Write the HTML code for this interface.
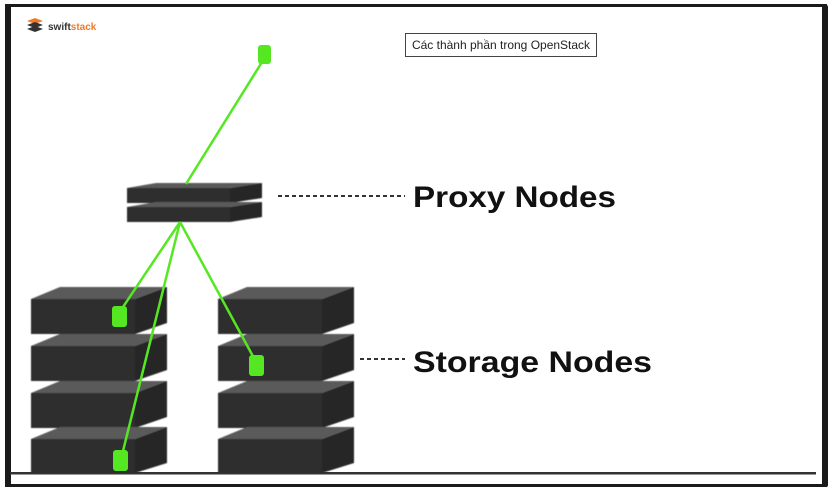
<!DOCTYPE html>
<html><head><meta charset="utf-8"><style>
html,body{margin:0;padding:0;background:#fff;}
body{width:837px;height:492px;position:relative;overflow:hidden;font-family:"Liberation Sans",Arial,sans-serif;}
</style></head><body>
<svg width="837" height="492" style="position:absolute;left:0;top:0">
<defs><filter id="b"><feGaussianBlur stdDeviation="0.6"/></filter></defs>
<rect x="0" y="0" width="837" height="492" fill="#fff"/>
<rect x="5" y="5" width="6" height="482" fill="#1a1a1a"/>
<rect x="5" y="4" width="822" height="3" fill="#1a1a1a"/>
<rect x="822" y="5" width="6" height="482" rx="2" fill="#1a1a1a"/>
<rect x="5" y="484" width="822" height="3" fill="#1a1a1a"/>
<rect x="10" y="472" width="806" height="2.5" fill="#333"/>
<g>
<path d="M27 21 L35 18 L43 21 L35 24Z" fill="#f07a2a"/>
<path d="M27 25 L35 22 L43 25 L35 28Z" fill="#333"/>
<path d="M27 29 L35 26 L43 29 L35 32Z" fill="#333"/>
<text x="48" y="30" font-size="10" font-weight="bold" fill="#333">swift<tspan fill="#f07a2a">stack</tspan></text>
</g>
<rect x="405.5" y="33.5" width="191" height="23" fill="#fff" stroke="#444"/>
<text x="501" y="49" font-size="12" text-anchor="middle" fill="#222">Các thành phần trong OpenStack</text>
<g filter="url(#b)">
<polygon points="127,188 156,183 262,183 230,188" fill="#5a5a5a"/>
<rect x="127" y="188" width="103" height="15" fill="#2f2f2f"/>
<polygon points="230,188 262,183 262,198 230,203" fill="#262626"/>
<polygon points="127,207 156,202 262,202 230,207" fill="#5a5a5a"/>
<rect x="127" y="207" width="103" height="15" fill="#2f2f2f"/>
<polygon points="230,207 262,202 262,217 230,222" fill="#262626"/>
</g>
<line x1="278" y1="196" x2="405" y2="196" stroke="#333" stroke-width="2" stroke-dasharray="4,3"/>
<line x1="360" y1="359" x2="405" y2="359" stroke="#333" stroke-width="2" stroke-dasharray="4,3"/>
<text x="413" y="207" font-size="30" font-weight="bold" fill="#111" textLength="203" lengthAdjust="spacingAndGlyphs">Proxy Nodes</text>
<text x="413" y="372" font-size="30" font-weight="bold" fill="#111" textLength="239" lengthAdjust="spacingAndGlyphs">Storage Nodes</text>
</svg>
<svg width="837" height="492" style="position:absolute;left:0;top:0">
<defs><filter id="b2"><feGaussianBlur stdDeviation="0.6"/></filter></defs>
<g filter="url(#b2)">
<g fill="#2f2f2f">
<polygon points="31,299 60,287 167,287 135,299" fill="#5a5a5a"/><rect x="31" y="299" width="104" height="35"/><polygon points="135,299 167,287 167,323 135,334" fill="#262626"/>
<polygon points="31,346 60,334 167,334 135,346" fill="#5a5a5a"/><rect x="31" y="346" width="104" height="35"/><polygon points="135,346 167,334 167,370 135,381" fill="#262626"/>
<polygon points="31,393 60,381 167,381 135,393" fill="#5a5a5a"/><rect x="31" y="393" width="104" height="35"/><polygon points="135,393 167,381 167,417 135,428" fill="#262626"/>
<polygon points="31,439 60,427 167,427 135,439" fill="#5a5a5a"/><rect x="31" y="439" width="104" height="34"/><polygon points="135,439 167,427 167,463 135,473" fill="#262626"/>
</g>
<g fill="#2f2f2f">
<polygon points="218,299 247,287 354,287 322,299" fill="#5a5a5a"/><rect x="218" y="299" width="104" height="35"/><polygon points="322,299 354,287 354,323 322,334" fill="#262626"/>
<polygon points="218,346 247,334 354,334 322,346" fill="#5a5a5a"/><rect x="218" y="346" width="104" height="35"/><polygon points="322,346 354,334 354,370 322,381" fill="#262626"/>
<polygon points="218,393 247,381 354,381 322,393" fill="#5a5a5a"/><rect x="218" y="393" width="104" height="35"/><polygon points="322,393 354,381 354,417 322,428" fill="#262626"/>
<polygon points="218,439 247,427 354,427 322,439" fill="#5a5a5a"/><rect x="218" y="439" width="104" height="34"/><polygon points="322,439 354,427 354,463 322,473" fill="#262626"/>
</g>
</g>
<g stroke="#55e822" stroke-width="2.5" fill="none">
<line x1="262" y1="62" x2="186" y2="184"/>
<line x1="180" y1="222" x2="121" y2="310"/>
<line x1="180" y1="222" x2="122" y2="455"/>
<line x1="180" y1="222" x2="255" y2="360"/>
</g>
<g fill="#55e822">
<rect x="258" y="45" width="13" height="19" rx="3"/>
<rect x="112" y="306" width="15" height="21" rx="3"/>
<rect x="113" y="450" width="15" height="21" rx="3"/>
<rect x="249" y="355" width="15" height="21" rx="3"/>
</g>
</svg>
</body></html>
